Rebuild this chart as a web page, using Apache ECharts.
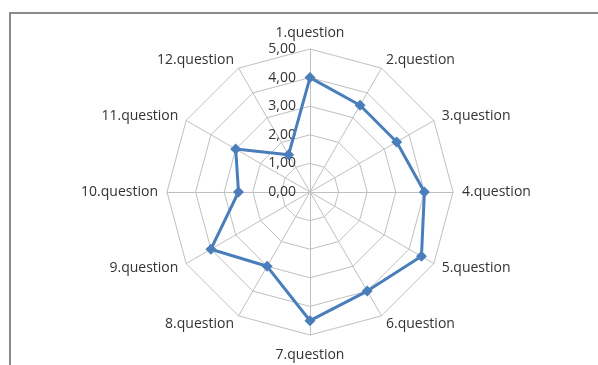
<!DOCTYPE html>
<html>
<head>
<meta charset="utf-8">
<script src="https://cdn.jsdelivr.net/npm/echarts@6/dist/echarts.min.js"></script>
<style>
  html, body { margin: 0; padding: 0; background: #fff; }
  #chart { width: 598px; height: 365px; }
</style>
</head>
<body>
<div id="chart"></div>
<script>
// Questions, in clockwise order starting from the top
const questions = [
  '1.question', '2.question', '3.question', '4.question', '5.question', '6.question',
  '7.question', '8.question', '9.question', '10.question', '11.question', '12.question'
];
// Average score per question
const scores = [4.0, 3.5, 3.5, 4.0, 4.5, 4.0, 4.5, 3.0, 4.0, 2.5, 3.0, 1.5];
const scaleMax = 5;
const scaleSteps = 5;

// ECharts lays radar indicators out counter-clockwise, so feed them reversed
// (keeping the first one at the top) to run clockwise.
const order = [0].concat(questions.map((_, i) => i).slice(1).reverse());

const indicators = order.map((i, k) => ({
  name: questions[i],
  max: scaleMax,
  min: 0,
  axisLabel: k === 0 ? {
    show: true,
    formatter: v => v.toFixed(2).replace('.', ',')
  } : { show: false }
}));

// The label straight below the centre sits a little further from the grid
const bottomName = questions[Math.floor(questions.length / 2)];

const chart = echarts.init(document.getElementById('chart'), null, { renderer: 'canvas' });
chart.setOption({
  animation: false,
  backgroundColor: '#ffffff',
  graphic: [{
    type: 'rect',
    shape: { x: 10, y: 13, width: 620, height: 400 },
    style: { fill: 'none', stroke: '#8a8a8a', lineWidth: 2 },
    silent: true
  }],
  radar: {
    center: [310, 192],
    radius: 143,
    startAngle: 90,
    shape: 'polygon',
    splitNumber: scaleSteps,
    indicator: indicators,
    nameGap: 9,
    axisName: {
      color: '#333333',
      fontFamily: 'Open Sans',
      fontSize: 14,
      formatter: name => name === bottomName ? '{low|' + name + '}' : name,
      rich: {
        low: {
          color: '#333333',
          fontFamily: 'Open Sans',
          fontSize: 14,
          padding: [4, 0, 0, 0]
        }
      }
    },
    axisLine: { lineStyle: { color: '#c0c0c0', width: 1 } },
    splitLine: { lineStyle: { color: '#c0c0c0', width: 1 } },
    splitArea: { show: false },
    axisTick: { show: false },
    axisLabel: {
      color: '#333333',
      fontFamily: 'Open Sans',
      fontSize: 14,
      margin: 14
    }
  },
  series: [{
    type: 'radar',
    symbol: 'path://M0,-1L1,0L0,1L-1,0Z',
    symbolSize: 11,
    lineStyle: { color: '#4a7ebb', width: 3 },
    itemStyle: { color: '#4a7ebb' },
    data: [{ value: order.map(i => scores[i]), name: 'score' }]
  }]
});
</script>
</body>
</html>
